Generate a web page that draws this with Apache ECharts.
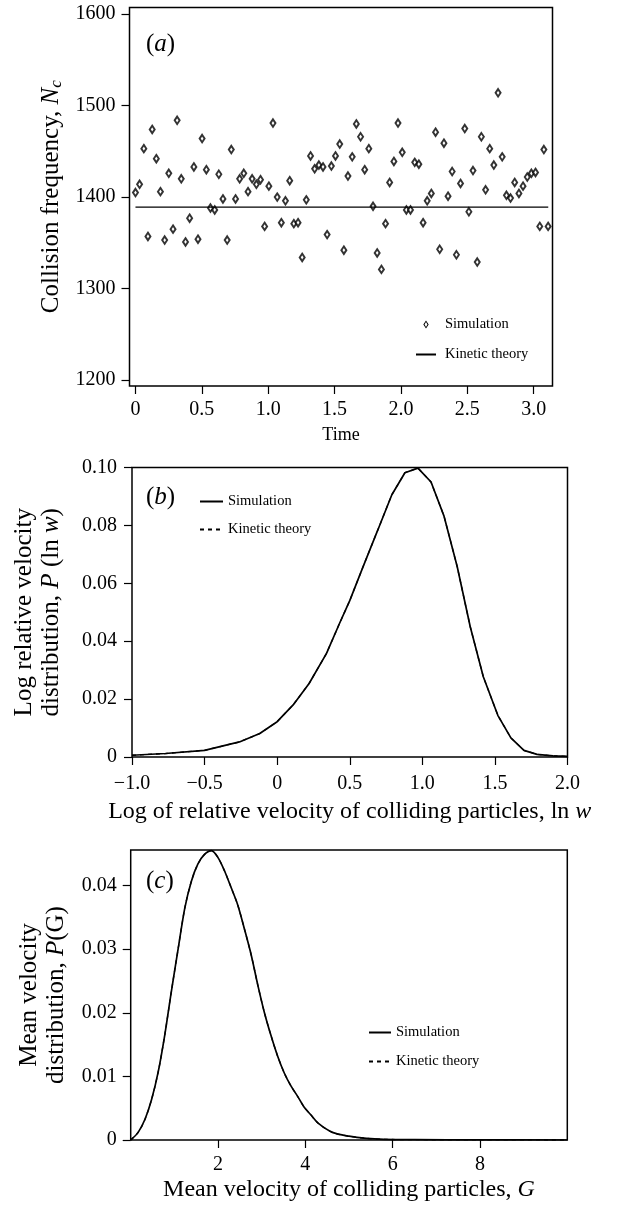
<!DOCTYPE html>
<html>
<head>
<meta charset="utf-8">
<script src="https://cdn.jsdelivr.net/npm/echarts@6/dist/echarts.min.js"></script>
<style>
html, body { margin: 0; padding: 0; background: #fff; }
#chart { width: 623px; height: 1206px; }
</style>
</head>
<body>
<div id="chart"></div>
<script>
// (a) collision frequency vs time
const timeA = [0, 0.031, 0.063, 0.094, 0.126, 0.157, 0.188, 0.220, 0.251, 0.283,
  0.314, 0.345, 0.377, 0.408, 0.440, 0.471, 0.502, 0.534, 0.565, 0.597,
  0.628, 0.659, 0.691, 0.722, 0.754, 0.785, 0.816, 0.848, 0.879, 0.911,
  0.942, 0.973, 1.005, 1.036, 1.068, 1.099, 1.130, 1.162, 1.193, 1.225,
  1.256, 1.287, 1.319, 1.350, 1.382, 1.413, 1.444, 1.476, 1.507, 1.539,
  1.570, 1.601, 1.633, 1.664, 1.696, 1.727, 1.758, 1.790, 1.821, 1.853,
  1.884, 1.915, 1.947, 1.978, 2.010, 2.041, 2.072, 2.104, 2.135, 2.167,
  2.198, 2.229, 2.261, 2.292, 2.324, 2.355, 2.386, 2.418, 2.449, 2.481,
  2.512, 2.543, 2.575, 2.606, 2.638, 2.669, 2.700, 2.732, 2.763, 2.795,
  2.826, 2.857, 2.889, 2.920, 2.952, 2.983, 3.014, 3.046, 3.077, 3.109];
const collisionA = [1405, 1414, 1453, 1357, 1474, 1442, 1406, 1353, 1426, 1365,
  1484, 1420, 1351, 1377, 1433, 1354, 1464, 1430, 1388, 1386,
  1425, 1398, 1353, 1452, 1398, 1420, 1426, 1406, 1420, 1414,
  1419, 1368, 1412, 1481, 1400, 1372, 1396, 1418, 1371, 1372,
  1334, 1397, 1445, 1431, 1435, 1433, 1359, 1434, 1445, 1458,
  1342, 1423, 1444, 1480, 1466, 1430, 1453, 1390, 1339, 1321,
  1371, 1416, 1439, 1481, 1449, 1386, 1386, 1438, 1436, 1372,
  1396, 1404, 1471, 1343, 1459, 1401, 1428, 1337, 1415, 1475,
  1384, 1429, 1329, 1466, 1408, 1453, 1435, 1514, 1444, 1402,
  1399, 1416, 1404, 1412, 1422, 1426, 1427, 1368, 1452, 1368];
const kineticTimeA = [0, 3.11];
const kineticA = [1389, 1389];
const timeTicks = [0, 0.5, 1, 1.5, 2, 2.5, 3];
const timeTickLabels = ['0', '0.5', '1.0', '1.5', '2.0', '2.5', '3.0'];
const freqTicks = [1200, 1300, 1400, 1500, 1600];
const freqTickLabels = ['1200', '1300', '1400', '1500', '1600'];

// (b) log relative velocity distribution
const lnW = [-1.0, -0.77, -0.5, -0.26, -0.12, 0, 0.11, 0.22, 0.34, 0.43, 0.5, 0.59, 0.69,
  0.79, 0.88, 0.97, 1.06, 1.15, 1.24, 1.33, 1.42, 1.52, 1.61, 1.70, 1.79, 1.9, 2.0];
const probLnW = [0.0006, 0.0012, 0.0023, 0.0052, 0.0081, 0.0122, 0.018, 0.0254, 0.0358, 0.0462,
  0.054, 0.0655, 0.078, 0.0906, 0.0982, 0.0998, 0.095, 0.0831, 0.0658, 0.045,
  0.0277, 0.0144, 0.0066, 0.0023, 0.0009, 0.0004, 0.0002];
const probLnWTheory = [0.0006, 0.0012, 0.0023, 0.0052, 0.0081, 0.0122, 0.018, 0.0254, 0.0358, 0.0462,
  0.054, 0.0655, 0.078, 0.0906, 0.0982, 0.0998, 0.095, 0.0831, 0.0658, 0.045,
  0.0277, 0.0144, 0.0066, 0.0023, 0.0009, 0.0004, 0.0002];
const lnWTicks = [-1, -0.5, 0, 0.5, 1, 1.5, 2];
const lnWTickLabels = ['\u22121.0', '\u22120.5', '0', '0.5', '1.0', '1.5', '2.0'];
const probLnWTicks = [0, 0.02, 0.04, 0.06, 0.08, 0.1];
const probLnWTickLabels = ['0', '0.02', '0.04', '0.06', '0.08', '0.10'];

// (c) mean velocity distribution
const meanG = [0, 0.17, 0.33, 0.48, 0.63, 0.78, 0.93, 1.09, 1.24, 1.39, 1.54, 1.69, 1.85, 2.0,
  2.15, 2.3, 2.45, 2.6, 2.76, 2.91, 3.06, 3.21, 3.36, 3.52, 3.67, 3.82, 3.97, 4.12, 4.3,
  4.62, 5.0, 5.4, 5.8, 6.5, 8, 10];
const probG = [0, 0.0012, 0.0033, 0.0064, 0.0107, 0.0165, 0.0233, 0.0302, 0.0365, 0.0407,
  0.0434, 0.0449, 0.0455, 0.0444, 0.0423, 0.0397, 0.037, 0.0333, 0.0291, 0.0244, 0.0201,
  0.0165, 0.0133, 0.0105, 0.0085, 0.0069, 0.0052, 0.004, 0.0026, 0.0012, 0.0006, 0.00025,
  0.0001, 0.00005, 0.00002, 0];
const probGTheory = [0, 0.0012, 0.0033, 0.0064, 0.0107, 0.0165, 0.0233, 0.0302, 0.0365, 0.0407,
  0.0434, 0.0449, 0.0455, 0.0444, 0.0423, 0.0397, 0.037, 0.0333, 0.0291, 0.0244, 0.0201,
  0.0165, 0.0133, 0.0105, 0.0085, 0.0069, 0.0052, 0.004, 0.0026, 0.0012, 0.0006, 0.00025,
  0.0001, 0.00005, 0.00002, 0];
const gTicks = [2, 4, 6, 8];
const gTickLabels = ['2', '4', '6', '8'];
const probGTicks = [0, 0.01, 0.02, 0.03, 0.04];
const probGTickLabels = ['0', '0.01', '0.02', '0.03', '0.04'];

const FONT = 'Liberation Serif';
const pairs = (xs, ys) => xs.map((x, i) => [x, ys[i]]);

function pick(values, labels) {
  return v => {
    const i = values.findIndex(t => Math.abs(t - v) < 1e-9);
    return i < 0 ? '' : labels[i];
  };
}

function axis(gridIndex, min, max, ticks, labels, margin, extra) {
  return Object.assign({
    gridIndex: gridIndex,
    type: 'value',
    min: min,
    max: max,
    axisLine: { show: false, onZero: false },
    splitLine: { show: false },
    axisTick: { customValues: ticks, length: 8, lineStyle: { color: '#000', width: 1.2 } },
    axisLabel: {
      customValues: ticks, formatter: pick(ticks, labels), margin: margin,
      fontFamily: FONT, fontSize: 20, color: '#000'
    },
    nameLocation: 'middle',
    nameTextStyle: { fontFamily: FONT, fontSize: 24, color: '#000' }
  }, extra);
}

const rich = {
  t: { fontFamily: FONT, fontSize: 25, color: '#000', lineHeight: 27 },
  i: { fontFamily: FONT, fontSize: 25, color: '#000', fontStyle: 'italic', lineHeight: 27 },
  s: { fontFamily: FONT, fontSize: 17, color: '#000', fontStyle: 'italic', verticalAlign: 'bottom', lineHeight: 27 },
  xt: { fontFamily: FONT, fontSize: 24, color: '#000' },
  xi: { fontFamily: FONT, fontSize: 24, color: '#000', fontStyle: 'italic' }
};

const panelRich = {
  n: { fontFamily: FONT, fontSize: 25, color: '#000', fontWeight: 'normal' },
  i: { fontFamily: FONT, fontSize: 25, color: '#000', fontStyle: 'italic', fontWeight: 'normal' }
};

const legendBase = {
  orient: 'vertical',
  padding: 0,
  selectedMode: false,
  itemHeight: 7,
  formatter: name => name.replace(/ \([abc]\)$/, ''),
  textStyle: { fontFamily: FONT, fontSize: 14.5, color: '#000' },
  itemStyle: { borderWidth: 0, opacity: 0 }
};

const diamondIcon = 'path://M2 0L4 3L2 6L0 3ZM2 1.1L0.9 3L2 4.9L3.1 3Z';

const option = {
  animation: false,
  backgroundColor: '#fff',
  title: [
    { text: '{n|(}{i|a}{n|)}', left: 141, top: 27, textStyle: { fontWeight: 'normal', rich: panelRich } },
    { text: '{n|(}{i|b}{n|)}', left: 141, top: 480, textStyle: { fontWeight: 'normal', rich: panelRich } },
    { text: '{n|(}{i|c}{n|)}', left: 141, top: 864, textStyle: { fontWeight: 'normal', rich: panelRich } }
  ],
  legend: [
    Object.assign({}, legendBase, {
      left: 415, top: 317, itemWidth: 20, itemHeight: 8, itemGap: 15,
      textStyle: { fontFamily: FONT, fontSize: 14.5, color: '#000', padding: [0, 0, 0, 4] },
      data: [
        { name: 'Simulation (a)', icon: diamondIcon, itemStyle: { opacity: 1 } },
        'Kinetic theory (a)'
      ]
    }),
    Object.assign({}, legendBase, {
      left: 199, top: 494, itemWidth: 23, itemGap: 13,
      data: ['Simulation (b)', 'Kinetic theory (b)']
    }),
    Object.assign({}, legendBase, {
      left: 368, top: 1025, itemWidth: 22, itemGap: 14,
      data: ['Simulation (c)', 'Kinetic theory (c)']
    })
  ],
  grid: [
    { left: 129.5, top: 7.5, width: 423, height: 378.5, show: true, borderColor: '#000', borderWidth: 1.5 },
    { left: 132, top: 467.5, width: 435.5, height: 289.5, show: true, borderColor: '#000', borderWidth: 1.5 },
    { left: 130.7, top: 850, width: 436.6, height: 290, show: true, borderColor: '#000', borderWidth: 1.5 }
  ],
  xAxis: [
    axis(0, -0.045, 3.142, timeTicks, timeTickLabels, 14, {
      name: 'Time', nameGap: 40,
      nameTextStyle: { fontFamily: FONT, fontSize: 18, color: '#000' }
    }),
    axis(1, -1, 2, lnWTicks, lnWTickLabels, 17, {
      name: '{xt|Log of relative velocity of colliding particles, ln }{xi|w}', nameGap: 43,
      nameTextStyle: { rich: rich }
    }),
    axis(2, 0, 10, gTicks, gTickLabels, 15, {
      name: '{xt|Mean velocity of colliding particles, }{xi|G}', nameGap: 38,
      nameTextStyle: { rich: rich }
    })
  ],
  yAxis: [
    axis(0, 1193.5, 1607.3, freqTicks, freqTickLabels, 14, {
      name: '{t|Collision frequency, }{i|N}{s|c}', nameGap: 62, nameRotate: 90,
      nameTextStyle: { rich: rich }
    }),
    axis(1, 0, 0.1, probLnWTicks, probLnWTickLabels, 15, {
      name: '{t|Log relative velocity}\n{t|distribution, }{i|P}{t| (ln }{i|w}{t|)}', nameGap: 67, nameRotate: 90,
      nameTextStyle: { rich: rich }
    }),
    axis(2, 0, 0.0456, probGTicks, probGTickLabels, 14, {
      name: '{t|Mean velocity}\n{t|distribution, }{i|P}{t|(G)}', nameGap: 61, nameRotate: 90,
      nameTextStyle: { rich: rich }
    })
  ],
  series: [
    {
      name: 'Simulation (a)', type: 'scatter', xAxisIndex: 0, yAxisIndex: 0,
      symbol: 'emptyDiamond', symbolSize: [5, 7.5],
      itemStyle: { color: '#000', borderColor: '#000', borderWidth: 1 },
      data: pairs(timeA, collisionA)
    },
    {
      name: 'Kinetic theory (a)', type: 'line', xAxisIndex: 0, yAxisIndex: 0,
      symbol: 'none', lineStyle: { color: '#000', width: 1.3 }, itemStyle: { color: '#000' },
      data: pairs(kineticTimeA, kineticA)
    },
    {
      name: 'Kinetic theory (b)', type: 'line', xAxisIndex: 1, yAxisIndex: 1, z: 1,
      symbol: 'none', lineStyle: { color: '#000', width: 1.3, type: [4, 4] }, itemStyle: { color: '#000' },
      data: pairs(lnW, probLnWTheory)
    },
    {
      name: 'Simulation (b)', type: 'line', xAxisIndex: 1, yAxisIndex: 1, z: 2,
      symbol: 'none', lineStyle: { color: '#000', width: 1.7 }, itemStyle: { color: '#000' },
      data: pairs(lnW, probLnW)
    },
    {
      name: 'Kinetic theory (c)', type: 'line', xAxisIndex: 2, yAxisIndex: 2, z: 1,
      symbol: 'none', smooth: 0.3, lineStyle: { color: '#000', width: 1.3, type: [4, 4] }, itemStyle: { color: '#000' },
      data: pairs(meanG, probGTheory)
    },
    {
      name: 'Simulation (c)', type: 'line', xAxisIndex: 2, yAxisIndex: 2, z: 2,
      symbol: 'none', smooth: 0.3, lineStyle: { color: '#000', width: 1.7 }, itemStyle: { color: '#000' },
      data: pairs(meanG, probG)
    }
  ]
};

const chart = echarts.init(document.getElementById('chart'));
chart.setOption(option);
</script>
</body>
</html>
